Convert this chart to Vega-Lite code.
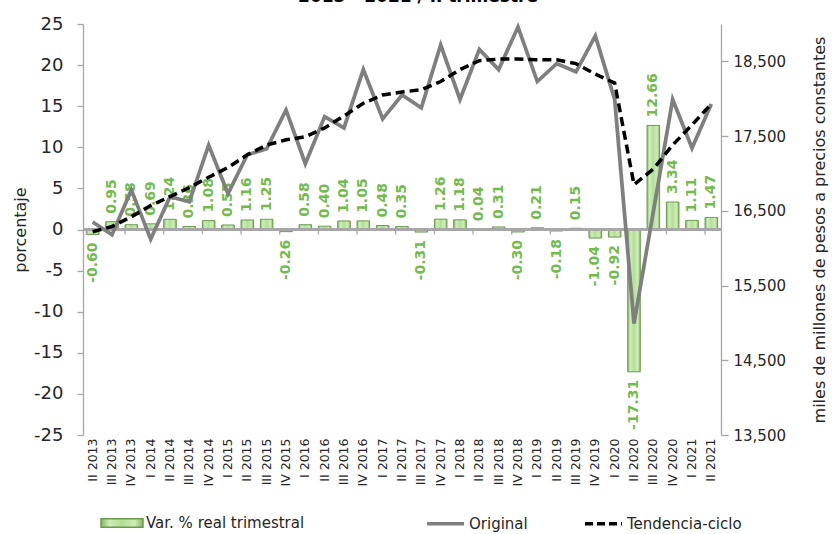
{
  "$schema": "https://vega.github.io/schema/vega-lite/v6.json",
  "width": 638,
  "height": 411,
  "autosize": {"type": "none"},
  "padding": {"left": 83, "top": 24, "right": 114, "bottom": 99},
  "background": "white",
  "title": {"text": "2013 - 2021 / II trimestre", "fontSize": 17, "fontWeight": "bold", "font": "DejaVu Sans", "color": "#000000", "anchor": "middle", "frame": "group", "dx": 16, "offset": -4, "baseline": "alphabetic"},
  "config": {
    "locale": {"number": {"decimal": ".", "thousands": ",", "grouping": [3], "currency": ["$", ""], "minus": "-"}},
    "view": {"stroke": null}, "font": "DejaVu Sans",
    "axis": {"grid": false, "labelColor": "#262626", "titleColor": "#262626", "domainColor": "#a6a6a6", "tickColor": "#a6a6a6", "domainWidth": 1.3, "tickWidth": 1.3, "titleFontWeight": "normal"}
  },
  "data": {"values": [
    {"q": "II 2013", "v": -0.60, "o": 16350, "t": 16220},
    {"q": "III 2013", "v": 0.95, "o": 16180, "t": 16290},
    {"q": "IV 2013", "v": 0.58, "o": 16780, "t": 16420},
    {"q": "I 2014", "v": 0.69, "o": 16120, "t": 16570},
    {"q": "II 2014", "v": 1.24, "o": 16690, "t": 16690},
    {"q": "III 2014", "v": 0.36, "o": 16620, "t": 16810},
    {"q": "IV 2014", "v": 1.08, "o": 17380, "t": 16950},
    {"q": "I 2015", "v": 0.55, "o": 16730, "t": 17080},
    {"q": "II 2015", "v": 1.16, "o": 17250, "t": 17250},
    {"q": "III 2015", "v": 1.25, "o": 17330, "t": 17380},
    {"q": "IV 2015", "v": -0.26, "o": 17850, "t": 17450},
    {"q": "I 2016", "v": 0.58, "o": 17130, "t": 17490},
    {"q": "II 2016", "v": 0.40, "o": 17760, "t": 17610},
    {"q": "III 2016", "v": 1.04, "o": 17610, "t": 17770},
    {"q": "IV 2016", "v": 1.05, "o": 18390, "t": 17940},
    {"q": "I 2017", "v": 0.48, "o": 17730, "t": 18050},
    {"q": "II 2017", "v": 0.35, "o": 18050, "t": 18090},
    {"q": "III 2017", "v": -0.31, "o": 17880, "t": 18120},
    {"q": "IV 2017", "v": 1.26, "o": 18720, "t": 18230},
    {"q": "I 2018", "v": 1.18, "o": 17990, "t": 18390},
    {"q": "II 2018", "v": 0.04, "o": 18660, "t": 18510},
    {"q": "III 2018", "v": 0.31, "o": 18390, "t": 18530},
    {"q": "IV 2018", "v": -0.30, "o": 18960, "t": 18530},
    {"q": "I 2019", "v": 0.21, "o": 18230, "t": 18520},
    {"q": "II 2019", "v": -0.18, "o": 18470, "t": 18520},
    {"q": "III 2019", "v": 0.15, "o": 18360, "t": 18470},
    {"q": "IV 2019", "v": -1.04, "o": 18840, "t": 18330},
    {"q": "I 2020", "v": -0.92, "o": 17990, "t": 18210},
    {"q": "II 2020", "v": -17.31, "o": 14990, "t": 16850},
    {"q": "III 2020", "v": 12.66, "o": 16490, "t": 17060},
    {"q": "IV 2020", "v": 3.34, "o": 17990, "t": 17380},
    {"q": "I 2021", "v": 1.11, "o": 17340, "t": 17650},
    {"q": "II 2021", "v": 1.47, "o": 17930, "t": 17930}
  ]},
  "layer": [
    {
      "layer": [
        {
          "mark": {"type": "bar", "strokeWidth": 1, "fill": {"gradient": "linear", "x1": 0, "y1": 0, "x2": 1, "y2": 0, "stops": [{"offset": 0, "color": "#86b866"}, {"offset": 0.2, "color": "#cdeeb8"}, {"offset": 0.5, "color": "#b4de98"}, {"offset": 0.8, "color": "#cdeeb8"}, {"offset": 1, "color": "#86b866"}]}},
          "encoding": {
            "x": {"field": "q", "type": "nominal", "scale": {"domain": ["II 2013","III 2013","IV 2013","I 2014","II 2014","III 2014","IV 2014","I 2015","II 2015","III 2015","IV 2015","I 2016","II 2016","III 2016","IV 2016","I 2017","II 2017","III 2017","IV 2017","I 2018","II 2018","III 2018","IV 2018","I 2019","II 2019","III 2019","IV 2019","I 2020","II 2020","III 2020","IV 2020","I 2021","II 2021"], "paddingInner": 0.35, "paddingOuter": 0.175}, "axis": {"title": null, "labelAngle": 270, "labelFontSize": 12.5, "labelPadding": 3, "ticks": false, "domain": false, "labelAlign": "right", "labelBaseline": "middle"}},
            "y": {"field": "v", "type": "quantitative", "scale": {"domain": [-25, 25], "nice": false}, "axis": {"values": [-25, -20, -15, -10, -5, 0, 5, 10, 15, 20, 25], "format": "d", "title": "porcentaje", "titleFontSize": 16, "titleAngle": 270, "titleX": -63, "titleY": 205.5, "titleAlign": "center", "titleBaseline": "middle", "labelFontSize": 18, "tickSize": 6, "labelPadding": 14}},
            "stroke": {"datum": "Var. % real trimestral", "scale": {"range": ["#6b9a4d"]}, "legend": {"orient": "none", "legendX": 17, "legendY": 477, "title": null, "symbolType": "M-1,-0.2H1V0.2H-1Z", "symbolSize": 1764, "labelFontSize": 15, "labelColor": "#262626", "labelOffset": 2, "encode": {"symbols": {"update": {"fill": {"value": "#b4de98"}, "stroke": {"value": "#6b9a4d"}, "strokeWidth": {"value": 1}}}}}}
          }
        },
        {
          "transform": [{"filter": "datum.v >= 0"}],
          "mark": {"type": "text", "angle": 270, "align": "left", "baseline": "middle", "dx": 8, "fontSize": 14, "fontWeight": "bold", "color": "#72bb4c"},
          "encoding": {
            "x": {"field": "q", "type": "nominal", "scale": {"domain": ["II 2013","III 2013","IV 2013","I 2014","II 2014","III 2014","IV 2014","I 2015","II 2015","III 2015","IV 2015","I 2016","II 2016","III 2016","IV 2016","I 2017","II 2017","III 2017","IV 2017","I 2018","II 2018","III 2018","IV 2018","I 2019","II 2019","III 2019","IV 2019","I 2020","II 2020","III 2020","IV 2020","I 2021","II 2021"], "paddingInner": 0.35, "paddingOuter": 0.175}},
            "y": {"field": "v", "type": "quantitative"},
            "text": {"field": "v", "type": "quantitative", "format": ".2f"}
          }
        },
        {
          "transform": [{"filter": "datum.v < 0"}],
          "mark": {"type": "text", "angle": 270, "align": "right", "baseline": "middle", "dx": -8, "fontSize": 14, "fontWeight": "bold", "color": "#72bb4c"},
          "encoding": {
            "x": {"field": "q", "type": "nominal", "scale": {"domain": ["II 2013","III 2013","IV 2013","I 2014","II 2014","III 2014","IV 2014","I 2015","II 2015","III 2015","IV 2015","I 2016","II 2016","III 2016","IV 2016","I 2017","II 2017","III 2017","IV 2017","I 2018","II 2018","III 2018","IV 2018","I 2019","II 2019","III 2019","IV 2019","I 2020","II 2020","III 2020","IV 2020","I 2021","II 2021"], "paddingInner": 0.35, "paddingOuter": 0.175}},
            "y": {"field": "v", "type": "quantitative"},
            "text": {"field": "v", "type": "quantitative", "format": ".2f"}
          }
        },
        {
          "mark": {"type": "rule", "color": "#a6a6a6", "strokeWidth": 1.3},
          "encoding": {"y": {"datum": 0}}
        },
        {
          "transform": [{"filter": "split(datum.q, ' ')[0] == 'II' || split(datum.q, ' ')[0] == 'IV'"}],
          "mark": {"type": "rule", "color": "#a6a6a6", "strokeWidth": 1.3},
          "encoding": {
            "x": {"field": "q", "type": "nominal", "bandPosition": 0, "scale": {"domain": ["II 2013","III 2013","IV 2013","I 2014","II 2014","III 2014","IV 2014","I 2015","II 2015","III 2015","IV 2015","I 2016","II 2016","III 2016","IV 2016","I 2017","II 2017","III 2017","IV 2017","I 2018","II 2018","III 2018","IV 2018","I 2019","II 2019","III 2019","IV 2019","I 2020","II 2020","III 2020","IV 2020","I 2021","II 2021"], "paddingInner": 0.35, "paddingOuter": 0.175}},
            "y": {"datum": 0},
            "y2": {"datum": -0.6}
          }
        }
      ]
    },
    {
      "layer": [
        {
          "mark": {"type": "line", "strokeWidth": 3.75},
          "encoding": {
            "x": {"field": "q", "type": "nominal", "scale": {"domain": ["II 2013","III 2013","IV 2013","I 2014","II 2014","III 2014","IV 2014","I 2015","II 2015","III 2015","IV 2015","I 2016","II 2016","III 2016","IV 2016","I 2017","II 2017","III 2017","IV 2017","I 2018","II 2018","III 2018","IV 2018","I 2019","II 2019","III 2019","IV 2019","I 2020","II 2020","III 2020","IV 2020","I 2021","II 2021"], "paddingInner": 0.35, "paddingOuter": 0.175}},
            "y": {"field": "o", "type": "quantitative", "scale": {"domain": [13500, 19000], "nice": false, "zero": false}, "axis": {"orient": "right", "values": [13500, 14500, 15500, 16500, 17500, 18500], "format": ",d", "title": "miles de millones de pesos a precios constantes", "titleFontSize": 16, "titleAngle": 270, "titleX": 98, "titleY": 205.5, "titleAlign": "center", "titleBaseline": "middle", "labelFontSize": 15, "tickSize": 7, "labelPadding": 5}},
            "stroke": {"datum": "Original", "scale": {"domain": ["Original", "Tendencia-ciclo"], "range": ["#7f7f7f", "#000000"]}, "legend": {"orient": "none", "legendX": 342, "legendY": 479, "direction": "horizontal", "title": null, "symbolType": "stroke", "symbolSize": 1369, "symbolStrokeWidth": 3.5, "labelFontSize": 15, "labelColor": "#262626", "labelOffset": 3, "columnPadding": 50, "encode": {"symbols": {"update": {"strokeDash": {"signal": "datum.value === 'Tendencia-ciclo' ? [8, 4] : [1, 0]"}}}}}}
          }
        },
        {
          "mark": {"type": "line", "strokeWidth": 3.5, "strokeDash": [9, 5]},
          "encoding": {
            "x": {"field": "q", "type": "nominal", "scale": {"domain": ["II 2013","III 2013","IV 2013","I 2014","II 2014","III 2014","IV 2014","I 2015","II 2015","III 2015","IV 2015","I 2016","II 2016","III 2016","IV 2016","I 2017","II 2017","III 2017","IV 2017","I 2018","II 2018","III 2018","IV 2018","I 2019","II 2019","III 2019","IV 2019","I 2020","II 2020","III 2020","IV 2020","I 2021","II 2021"], "paddingInner": 0.35, "paddingOuter": 0.175}},
            "y": {"field": "t", "type": "quantitative", "axis": {"orient": "right", "values": [13500, 14500, 15500, 16500, 17500, 18500], "format": ",d", "title": "miles de millones de pesos a precios constantes", "titleFontSize": 16, "titleAngle": 270, "titleX": 98, "titleY": 205.5, "titleAlign": "center", "titleBaseline": "middle", "labelFontSize": 15, "tickSize": 7, "labelPadding": 5}},
            "stroke": {"datum": "Tendencia-ciclo"}
          }
        }
      ]
    }
  ],
  "resolve": {"scale": {"y": "independent", "stroke": "independent"}}
}
